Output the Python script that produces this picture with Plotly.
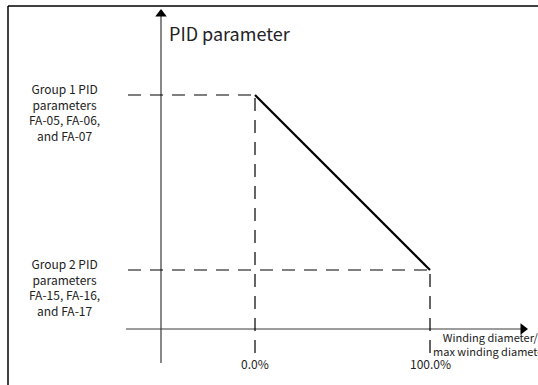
import plotly.graph_objects as go

# ---- data ----
x_ratio = [0, 100]                 # winding diameter / max winding diameter (%)
x_tick_labels = ["0.0%", "100.0%"]
pid_level = [1, 0]                 # group 1 PID (high) -> group 2 PID (low)
group_labels = [
    "Group 1 PID<br>parameters<br>FA-05, FA-06,<br>and FA-07",
    "Group 2 PID<br>parameters<br>FA-15, FA-16,<br>and FA-17",
]
y_title = "PID parameter"
x_title = "Winding diameter/<br>max winding diameter"

# ---- layout geometry (data units) ----
W, H = 538, 385
X_RANGE = [-145.7, 161.7]
Y_RANGE = [-0.657, 1.543]
SX = W / (X_RANGE[1] - X_RANGE[0])
SY = H / (Y_RANGE[1] - Y_RANGE[0])

def px_x(p):  # pixel -> data x
    return X_RANGE[0] + p / SX

def px_y(p):  # pixel -> data y
    return Y_RANGE[1] - p / SY

ox, oy = px_x(161), px_y(329)        # axis origin
dash_left = px_x(128)
axis_x_left, axis_x_tip = px_x(126), px_x(523)
axis_y_bottom, axis_y_tip = px_y(363), px_y(14)
dash_bottom = px_y(353)

FONT = "Noto Sans CJK SC, Noto Sans, sans-serif"
AX_COL = "#3a3a3a"
DASH = "13px,9px"

fig = go.Figure()

def line(xs, ys, color="black", width=1.2, dash=None):
    fig.add_trace(go.Scatter(x=xs, y=ys, mode="lines", hoverinfo="skip",
                             line=dict(color=color, width=width, dash=dash),
                             showlegend=False))

# axes
line([axis_x_left, axis_x_tip], [oy, oy], color=AX_COL, width=1.2)
line([ox, ox], [axis_y_bottom, axis_y_tip], color=AX_COL, width=1.2)
fig.add_trace(go.Scatter(x=[axis_x_tip], y=[oy], mode="markers", hoverinfo="skip",
                         marker=dict(symbol="triangle-right", size=10, color="black"),
                         showlegend=False))
fig.add_trace(go.Scatter(x=[ox], y=[axis_y_tip], mode="markers", hoverinfo="skip",
                         marker=dict(symbol="triangle-up", size=10, color="black"),
                         showlegend=False))

# dashed guides
line([dash_left, x_ratio[0]], [pid_level[0]] * 2, dash=DASH)
line([dash_left, x_ratio[1]], [pid_level[1]] * 2, dash=DASH)
line([x_ratio[0]] * 2, [dash_bottom, pid_level[0]], dash=DASH)
line([x_ratio[1]] * 2, [dash_bottom, pid_level[1]], dash=DASH)

# main characteristic
line(x_ratio, pid_level, color="black", width=2.2)

# texts
ann = []
for xv, lab in zip(x_ratio, x_tick_labels):
    ann.append(dict(x=xv, y=px_y(363), text=lab, showarrow=False,
                    font=dict(size=12, color="#222"), xanchor="center", yanchor="middle"))
for yv, lab in zip(pid_level, group_labels):
    ann.append(dict(x=px_x(64), y=yv - (17 / SY), text=lab, showarrow=False, align="center",
                    font=dict(size=12, color="#222"), xanchor="center", yanchor="middle"))
ann.append(dict(x=px_x(167), y=px_y(33), text=y_title, showarrow=False,
                font=dict(size=18, color="#222"), xanchor="left", yanchor="middle"))
ann.append(dict(x=px_x(490), y=px_y(344), text=x_title, showarrow=False, align="center",
                font=dict(size=11, color="#222"), xanchor="center", yanchor="middle"))

# frame (top and left border)
shapes = [
    dict(type="line", xref="paper", yref="paper", x0=8 / W, x1=1, y0=1 - 6 / H, y1=1 - 6 / H,
         line=dict(color="black", width=1.5)),
    dict(type="line", xref="paper", yref="paper", x0=8 / W, x1=8 / W, y0=1 - 6 / H, y1=0,
         line=dict(color="black", width=1.5)),
]

fig.update_layout(
    width=W, height=H, margin=dict(l=0, r=0, t=0, b=0),
    paper_bgcolor="white", plot_bgcolor="white",
    font=dict(family=FONT),
    xaxis=dict(range=X_RANGE, visible=False, fixedrange=True),
    yaxis=dict(range=Y_RANGE, visible=False, fixedrange=True),
    annotations=ann, shapes=shapes, showlegend=False,
)

fig.write_html("out.html", config={"displayModeBar": False},
               post_script="document.body.style.margin='0px';document.body.style.overflow='hidden';")
